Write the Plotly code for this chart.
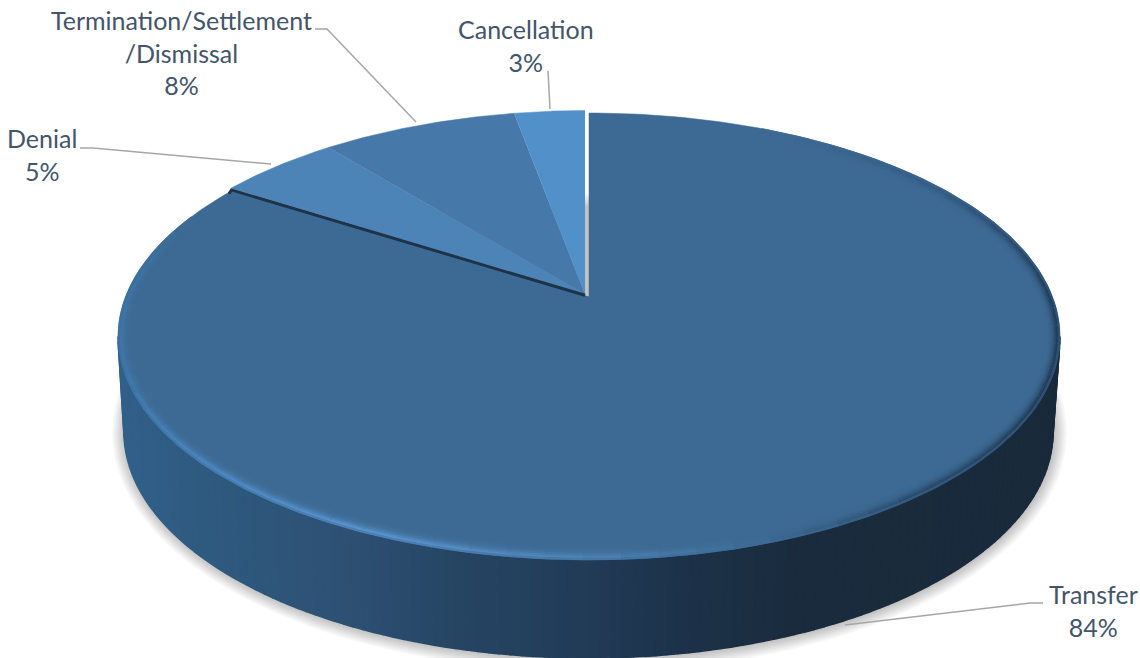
import numpy as np
import plotly.graph_objects as go

# ---- data ----
categories = ["Transfer", "Denial", "Termination/Settlement<br>/Dismissal", "Cancellation"]
percent_values = [84, 5, 8, 3]

# ---- style ----
slice_colors = ["#3d6a94", "#4d84b8", "#4678a9", "#5290ca"]
TEXT = "#44546a"
LEADER = "#a6a6a6"
W, H = 1140, 658
CX, CY, RX, RY = 589.0, 336.5, 471.0, 223.5     # top face ellipse
BX, BY, BRX, BRY = 588.5, 432.0, 464.5, 226.0   # bottom rim ellipse
APEX_Y = 296.5
A = (CY - APEX_Y) / RY


def rim(frac, dx=0.0, dy=0.0):
    """Perspective pie: clockwise fraction from 12 o'clock to a rim pixel."""
    th = 2 * np.pi * np.asarray(frac, dtype=float)
    u, v = np.sin(th), np.cos(th)
    den = 1 + A * v
    up = u * np.sqrt(1 - A * A) / den
    vp = (v + A) / den
    return CX + RX * up + dx, CY - RY * vp + dy


def hex2rgb(h):
    return np.array([int(h[i:i + 2], 16) for i in (1, 3, 5)], dtype=float)


def css(c):
    return "rgb(%d,%d,%d)" % tuple(np.clip(np.round(c), 0, 255))


def ramp(x, stops):
    xs = [s[0] for s in stops]
    cols = np.array([hex2rgb(s[1]) for s in stops])
    return np.array([np.interp(x, xs, cols[:, k]) for k in range(3)])


fig = go.Figure()


def poly(xs, ys, color, line=0.0, opacity=None):
    fig.add_trace(go.Scatter(
        x=list(xs), y=list(ys), mode="lines", fill="toself", fillcolor=color,
        line=dict(color=color, width=line), hoverinfo="skip", showlegend=False,
        opacity=opacity))


# soft drop shadow under the body
t = np.linspace(0, 2 * np.pi, 181)
for k in np.arange(13, 0, -1.5):
    poly(BX + 1 + (BRX + k) * np.cos(t), BY + 1 + (BRY + k) * np.sin(t),
         "rgba(0,0,0,0.028)")

# side wall: shaded strips following the lower half of the rim
wall_stops = [(118, "#31608a"), (200, "#2f5a80"), (350, "#2d5073"), (450, "#264664"),
              (600, "#213a55"), (700, "#1c3148"), (800, "#1a2b3d"), (1060, "#192a3b")]
edges = np.linspace(np.pi * 1.0, 0, 131)
for a0, a1 in zip(edges[:-1], edges[1:]):
    tt = np.linspace(a0, a1, 4)
    ux, uy = CX + RX * np.cos(tt), CY + RY * np.sin(tt)
    lx, ly = BX + BRX * np.cos(tt), BY + BRY * np.sin(tt)
    xm = ux.mean()
    poly(np.r_[ux, lx[::-1]], np.r_[uy, ly[::-1]], css(ramp(xm, wall_stops)), line=1.6)

# slices of the top face, built from the values
fracs = np.array(percent_values, dtype=float) / sum(percent_values)
bounds = np.r_[0, np.cumsum(fracs)]

# Transfer first (largest), slightly displaced from the smaller slices
f = np.linspace(bounds[0], bounds[1], 241)
x, y = rim(f)
poly(np.r_[589.0, x], np.r_[APEX_Y, y], slice_colors[0], line=0.5)

# bevel on the Transfer rim
edge_stops = [(0.06, "#3d6a94"), (0.13, "#365c84"), (0.22, "#223d58"), (0.30, "#223d58"),
              (0.38, "#2a4c6c"), (0.44, "#3d6a94"), (0.50, "#4d82b5"), (0.58, "#5a94d0"),
              (0.66, "#4a86be"), (0.72, "#3f78ad"), (0.80, "#3d72a3"), (0.84, "#3d6a94")]
ring_d = [0.8, 2.6, 4.4, 6.2, 8.0, 10.0, 12.0]
ring_w = [0.55, 1.0, 0.75, 0.45, 0.25, 0.12, 0.05]
top_rgb = hex2rgb(slice_colors[0])
segs = np.linspace(0.06, bounds[1], 61)
for d, wt in sorted(zip(ring_d, ring_w), reverse=True):
    for s0, s1 in zip(segs[:-1], segs[1:]):
        ang = 2 * np.pi * np.linspace(s0, s1, 5)
        ex = CX + (RX - d) * np.sin(ang)
        ey = CY - (RY - d) * np.cos(ang)
        c = top_rgb + wt * (ramp((s0 + s1) / 2, edge_stops) - top_rgb)
        fig.add_trace(go.Scatter(x=ex, y=ey, mode="lines", hoverinfo="skip", showlegend=False,
                                 line=dict(color=css(c), width=2.2)))

# the three smaller slices, lifted a little
for i in range(1, len(fracs)):
    f = np.linspace(bounds[i], bounds[i + 1], 41)
    x, y = rim(f, dx=-1.0, dy=-2.5)
    poly(np.r_[585.0, np.minimum(x, 585.0)], np.r_[294.0, y], slice_colors[i], line=0.5)

# dark edge where Transfer ends, closing the seam to the lifted slices
x_end, y_end = rim(bounds[1])
fig.add_trace(go.Scatter(x=[x_end - 3, x_end - 0.5, 585], y=[y_end + 3, y_end - 0.8, 295.3],
                         mode="lines", hoverinfo="skip", showlegend=False,
                         line=dict(color="#1c3349", width=3)))

# leader lines
leader_x = [[1043, 1030, 845], [80, 93, 271], [315, 327, 416], [548, 550]]
leader_y = [[603, 603, 625], [148, 148, 164], [29, 29, 122], [71, 109]]
for lx, ly in zip(leader_x, leader_y):
    fig.add_trace(go.Scatter(x=lx, y=ly, mode="lines", hoverinfo="skip", showlegend=False,
                             line=dict(color=LEADER, width=1.5)))

# labels
label_x = [1093, 42, 181, 526]
label_y = [610, 154, 52, 45]
for name, v, lx, ly in zip(categories, percent_values, label_x, label_y):
    fig.add_annotation(x=lx, y=ly, text=f"{name}<br>{v}%", showarrow=False,
                       xanchor="center", yanchor="middle", align="center",
                       font=dict(family="Lato, Carlito, sans-serif", size=25, color=TEXT))

fig.update_layout(
    width=W, height=H, margin=dict(l=0, r=0, t=0, b=0),
    paper_bgcolor="white", plot_bgcolor="white", showlegend=False,
    xaxis=dict(range=[0, W], visible=False, fixedrange=True),
    yaxis=dict(range=[H, 0], visible=False, fixedrange=True),
)
fig.write_html("out.html", config={"displayModeBar": False},
               post_script="document.body.style.margin='0';document.documentElement.style.overflow='hidden';")
